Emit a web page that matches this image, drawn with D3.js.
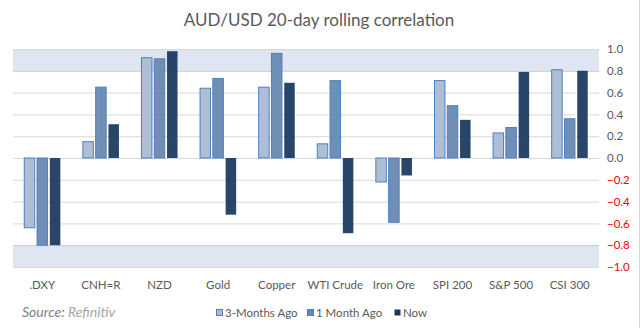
<!DOCTYPE html>
<html>
<head>
<meta charset="utf-8">
<script src="https://cdn.jsdelivr.net/npm/d3@7"></script>
<style>
  body { margin: 0; background: #fff; }
  svg { display: block; font-family: Lato, "Open Sans", sans-serif; }
</style>
</head>
<body>
<svg id="chart" width="640" height="328"></svg>
<script>
const categories = [".DXY", "CNH=R", "NZD", "Gold", "Copper", "WTI Crude", "Iron Ore", "SPI 200", "S&P 500", "CSI 300"];
const threeMonthsAgo = [-0.64, 0.15, 0.92, 0.64, 0.65, 0.13, -0.22, 0.71, 0.23, 0.81];
const oneMonthAgo = [-0.80, 0.65, 0.91, 0.73, 0.96, 0.71, -0.59, 0.48, 0.28, 0.36];
const nowValues = [-0.80, 0.31, 0.98, -0.52, 0.69, -0.69, -0.16, 0.35, 0.79, 0.80];
const seriesNames = ["3-Months Ago", "1 Month Ago", "Now"];
const yTicks = [-1.0, -0.8, -0.6, -0.4, -0.2, 0.0, 0.2, 0.4, 0.6, 0.8, 1.0];
const bands = [[0.8, 1.0], [-1.0, -0.8]];

const seriesStyle = {
  "3-Months Ago": { fill: "#a8bad2", stroke: "#4f7fbf" },
  "1 Month Ago": { fill: "#6587b1", stroke: "#4f7fbf" },
  "Now": { fill: "#18375f", stroke: "none" }
};

const svg = d3.select('#chart');
const margin = { left: 13, right: 41, top: 49, bottom: 61 };
const width = +svg.attr('width');
const height = +svg.attr('height');

const rows = categories.map((c, i) => ({
  cat: c,
  "3-Months Ago": threeMonthsAgo[i],
  "1 Month Ago": oneMonthAgo[i],
  "Now": nowValues[i]
}));

const x0 = d3.scaleBand()
  .domain(categories)
  .range([margin.left, width - margin.right])
  .paddingInner(0.345)
  .paddingOuter(0.1725);

const x1 = d3.scaleBand()
  .domain(seriesNames)
  .range([0, x0.bandwidth()])
  .paddingInner(0.18)
  .paddingOuter(0.09);

const y = d3.scaleLinear()
  .domain([-1, 1])
  .range([height - margin.bottom, margin.top]);

// shaded bands
svg.append('g').selectAll('rect')
  .data(bands)
  .join('rect')
    .attr('x', margin.left)
    .attr('width', width - margin.left - margin.right)
    .attr('y', d => y(d[1]))
    .attr('height', d => y(d[0]) - y(d[1]))
    .attr('fill', '#dfe6f2');

// gridlines + right axis labels
const yAxis = d3.axisRight(y)
  .tickValues(yTicks)
  .tickFormat(d3.format('.1f'))
  .tickSize(-(width - margin.left - margin.right))
  .tickPadding(8);

const yAxisG = svg.append('g')
  .attr('transform', `translate(${width - margin.right},0)`)
  .call(yAxis);
yAxisG.select('.domain').remove();
yAxisG.selectAll('.tick line')
  .attr('stroke', d => (Math.abs(d) === 0.8 ? '#c3c9d6' : '#d9d9d9'))
  .attr('stroke-width', 1);
yAxisG.selectAll('.tick text')
  .attr('font-size', 11.5)
  .attr('font-family', 'Lato, sans-serif')
  .attr('fill', d => (d < 0 ? '#ff0000' : '#595959'));

// bars
const groups = svg.append('g').selectAll('g')
  .data(rows)
  .join('g')
    .attr('transform', d => `translate(${x0(d.cat)},0)`);

groups.selectAll('rect')
  .data(d => seriesNames.map(s => ({ key: s, value: d[s] })))
  .join('rect')
    .attr('x', d => x1(d.key))
    .attr('width', x1.bandwidth())
    .attr('y', d => y(Math.max(0, d.value)))
    .attr('height', d => Math.abs(y(d.value) - y(0)))
    .attr('fill', d => seriesStyle[d.key].fill)
    .attr('fill-opacity', 0.93)
    .attr('stroke', d => seriesStyle[d.key].stroke)
    .attr('stroke-width', 1);

// category labels
const xAxis = d3.axisBottom(x0).tickSize(0).tickPadding(0);
const xAxisG = svg.append('g')
  .attr('transform', `translate(0,${height - margin.bottom + 22})`)
  .call(xAxis);
xAxisG.select('.domain').remove();
xAxisG.selectAll('.tick text')
  .attr('font-size', 11.5)
  .attr('font-family', 'Lato, sans-serif')
  .attr('fill', '#595959')
  .attr('dy', 0);

// title
svg.append('text')
  .attr('x', 319)
  .attr('y', 26)
  .attr('text-anchor', 'middle')
  .attr('font-size', 17)
  .attr('fill', '#595959')
  .text('AUD/USD 20-day rolling correlation');

// source
const src = svg.append('text')
  .attr('x', 22)
  .attr('y', 317)
  .attr('font-size', 14)
  .attr('font-style', 'italic');
src.append('tspan').attr('fill', '#808080').text('Source: ');
src.append('tspan').attr('fill', '#a6a6a6').text('Refinitiv');

// legend
const legendX = [216, 307, 394];
const legend = svg.append('g').selectAll('g')
  .data(seriesNames)
  .join('g')
    .attr('transform', (d, i) => `translate(${legendX[i]},309)`);
legend.append('rect')
  .attr('x', 0.5)
  .attr('y', 0.5)
  .attr('width', 6)
  .attr('height', 6)
  .attr('fill', d => seriesStyle[d].fill)
  .attr('stroke', d => seriesStyle[d].stroke);
legend.append('text')
  .attr('x', 9)
  .attr('y', 7.5)
  .attr('font-size', 11.5)
  .attr('fill', '#595959')
  .text(d => d);

// right border
svg.append('line')
  .attr('x1', 639.5).attr('x2', 639.5)
  .attr('y1', 0).attr('y2', height)
  .attr('stroke', '#d9d9d9');
</script>
</body>
</html>
